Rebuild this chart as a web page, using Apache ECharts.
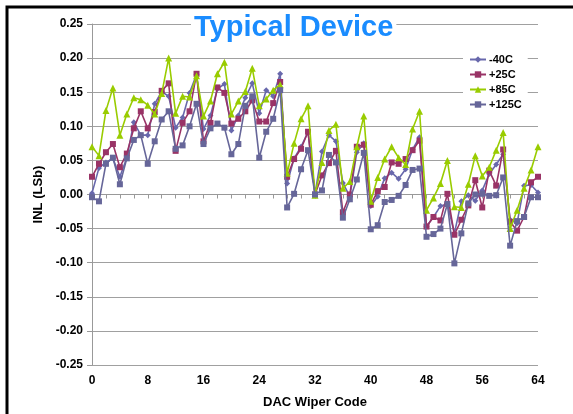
<!DOCTYPE html>
<html><head><meta charset="utf-8">
<script src="https://cdn.jsdelivr.net/npm/echarts@6/dist/echarts.min.js"></script>
<style>html,body{margin:0;padding:0;background:#fff}#c{width:573px;height:414px}</style>
</head><body><div id="c"></div>
<script>
var codes = [0,1,2,3,4,5,6,7,8,9,10,11,12,13,14,15,16,17,18,19,20,21,22,23,24,25,26,27,28,29,30,31,32,33,34,35,36,37,38,39,40,41,42,43,44,45,46,47,48,49,50,51,52,53,54,55,56,57,58,59,60,61,62,63,64];
var seriesNames = ['-40C','+25C','+85C','+125C'];
var m40C = [0.002,0.039,0.047,0.053,0.026,0.054,0.106,0.087,0.087,0.133,0.151,0.144,0.098,0.113,0.149,0.176,0.096,0.116,0.155,0.162,0.094,0.116,0.142,0.163,0.119,0.153,0.144,0.177,0.016,0.053,0.070,0.092,0.001,0.063,0.087,0.078,0.017,-0.003,0.062,0.075,-0.017,-0.003,0.024,0.032,0.023,0.037,0.066,0.084,-0.047,-0.033,-0.017,-0.014,-0.057,-0.010,-0.001,-0.009,0.006,0.030,0.044,0.059,-0.037,-0.042,0.013,0.014,0.003];
var p25C = [0.026,0.045,0.062,0.074,0.040,0.060,0.097,0.122,0.097,0.121,0.152,0.163,0.064,0.105,0.122,0.177,0.078,0.105,0.157,0.149,0.104,0.111,0.122,0.138,0.107,0.107,0.134,0.165,0.026,0.052,0.067,0.092,0.000,0.028,0.046,0.064,-0.026,0.000,0.070,0.073,-0.015,0.005,0.011,0.047,0.045,0.052,0.065,0.079,-0.047,-0.033,-0.038,0.001,-0.059,-0.037,-0.016,0.021,-0.019,0.035,0.013,0.066,-0.040,-0.053,-0.033,0.018,0.026];
var p85C = [0.070,0.057,0.123,0.156,0.087,0.118,0.142,0.139,0.131,0.118,0.148,0.200,0.119,0.144,0.143,0.174,0.115,0.137,0.177,0.194,0.118,0.137,0.151,0.185,0.130,0.140,0.153,0.161,0.031,0.075,0.111,0.130,-0.001,0.047,0.094,0.103,0.009,0.019,0.070,0.115,-0.010,0.025,0.052,0.070,0.054,0.044,0.096,0.122,-0.023,-0.005,0.016,0.050,-0.018,-0.019,0.015,0.057,0.027,0.040,0.065,0.091,-0.050,-0.023,0.009,0.036,0.070];
var p125C = [-0.004,-0.010,0.045,0.054,0.015,0.053,0.080,0.087,0.045,0.078,0.110,0.122,0.067,0.072,0.100,0.133,0.074,0.097,0.104,0.098,0.059,0.074,0.130,0.144,0.054,0.092,0.111,0.153,-0.019,0.001,0.037,0.065,0.000,0.006,0.058,0.047,-0.034,-0.007,0.022,0.061,-0.051,-0.045,-0.011,-0.008,-0.002,0.014,0.036,0.038,-0.062,-0.058,-0.050,-0.014,-0.101,-0.057,-0.013,0.000,0.001,-0.002,-0.001,0.025,-0.075,-0.039,-0.033,-0.004,-0.004];
var yTicks = [-0.25,-0.20,-0.15,-0.10,-0.05,0.00,0.05,0.10,0.15,0.20,0.25];

var valuesList = [m40C, p25C, p85C, p125C];
var colors = ['#6868AC','#993366','#99CC00','#666699'];
var symbols = ['diamond','rect','triangle','rect'];
var sizes = [6,6,7,6];
function pairs(v){ return codes.map(function(c,i){ return [c, v[i]]; }); }

var chart = echarts.init(document.getElementById('c'), null, {renderer:'canvas'});
var FONT = 'Liberation Sans';
chart.setOption({
  animation:false,
  backgroundColor:'#fff',
  title:{
    text:'Typical Device', left:191, top:13, padding:[0,3],
    backgroundColor:'#fff',
    textStyle:{color:'#1A8CFF', fontFamily:FONT, fontWeight:'bold', fontSize:29}
  },
  legend:{
    data:seriesNames, orient:'vertical', left:463, top:52,
    backgroundColor:'#fff', padding:[2,6,2,6], itemGap:4, itemWidth:16, itemHeight:8,
    textStyle:{fontFamily:FONT, fontWeight:'bold', fontSize:11, color:'#000', padding:[0,0,0,-2]}
  },
  grid:{left:92, right:35, top:24, bottom:48},
  xAxis:{
    type:'value', min:0, max:64, interval:8,
    name:'DAC Wiper Code', nameLocation:'middle', nameGap:31,
    nameTextStyle:{fontFamily:FONT, fontWeight:'bold', fontSize:13, color:'#000'},
    axisLine:{lineStyle:{color:'#999'}},
    axisTick:{show:true, length:4, lineStyle:{color:'#999'}},
    minorTick:{show:true, splitNumber:4, length:4, lineStyle:{color:'#999'}},
    splitLine:{show:false},
    axisLabel:{fontFamily:FONT, fontWeight:'bold', fontSize:12, color:'#000', margin:10}
  },
  yAxis:{
    type:'value', min:yTicks[0], max:yTicks[yTicks.length-1], interval:0.05,
    name:'INL (LSb)', nameLocation:'middle', nameRotate:90, nameGap:41,
    nameTextStyle:{fontFamily:FONT, fontWeight:'bold', fontSize:13, color:'#000'},
    axisLine:{show:true, lineStyle:{color:'#999'}},
    axisTick:{show:true, length:5, lineStyle:{color:'#999'}},
    splitLine:{lineStyle:{color:'#a0a0a0', width:1.2}},
    axisLabel:{fontFamily:FONT, fontWeight:'bold', fontSize:12, color:'#000', margin:9,
      formatter:function(v){ return v.toFixed(2); }}
  },
  series: seriesNames.map(function(n,i){
    return {
      name:n, type:'line', data:pairs(valuesList[i]),
      symbol:symbols[i], symbolSize:sizes[i],
      lineStyle:{color:colors[i], width:1.6},
      itemStyle:{color:colors[i]},
      z: 3+i
    };
  }),
  graphic:[{
    type:'rect', shape:{x:7, y:7, width:620, height:460},
    style:{fill:'none', stroke:'#000', lineWidth:3}, z:100, silent:true
  }]
});
</script></body></html>
